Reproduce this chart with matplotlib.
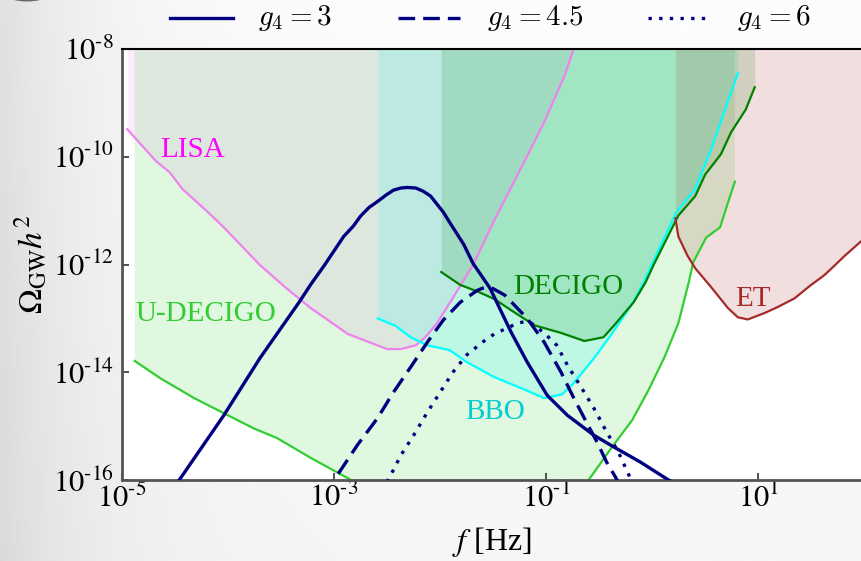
import numpy as np
import matplotlib
matplotlib.use("Agg")
import matplotlib.pyplot as plt
from matplotlib.lines import Line2D
from matplotlib.patches import Circle

plt.rcParams["font.family"] = ["Liberation Serif", "DejaVu Serif"]
plt.rcParams["mathtext.fontset"] = "stix"

# detector sensitivity curves, log10 f [Hz] vs log10 Omega h^2
lisa_logf = [-4.95, -4.68, -4.55, -4.43, -4.20, -4.04, -3.70, -3.45, -3.22, -2.87,
             -2.50, -2.37, -2.23, -2.14, -2.03, -1.88, -1.75, -1.69, -1.49, -1.18,
             -1.02, -0.83, -0.74, -0.66]
lisa_logo = [-9.49, -10.08, -10.29, -10.60, -11.01, -11.31, -12.01, -12.44, -12.81, -13.29,
             -13.57, -13.57, -13.50, -13.35, -13.09, -12.62, -12.20, -12.01, -11.18, -9.99,
             -9.36, -8.51, -8.00, -7.80]

udecigo_logf = [-4.88, -4.64, -4.32, -4.04, -3.76, -3.54, -3.22, -2.84, -2.50, -1.50,
                -0.80, -0.60, -0.38, -0.19, -0.035, 0.115, 0.246, 0.349, 0.386, 0.508,
                0.639, 0.714, 0.779]
udecigo_logo = [-13.79, -14.11, -14.48, -14.76, -15.04, -15.22, -15.59, -16.00, -16.40, -16.80,
                -16.40, -16.00, -15.39, -14.89, -14.33, -13.72, -13.09, -12.29, -11.96, -11.50,
                -11.31, -10.85, -10.46]

bbo_logf = [-2.588, -2.42, -2.28, -2.12, -1.91, -1.75, -1.49, -1.23, -1.02, -0.85,
            -0.74, -0.55, -0.39, -0.20, -0.08, -0.007, 0.227, 0.405, 0.555, 0.807]
bbo_logo = [-13.00, -13.14, -13.35, -13.50, -13.59, -13.81, -14.09, -14.30, -14.48, -14.41,
            -14.20, -13.74, -13.31, -12.76, -12.33, -12.01, -11.03, -10.60, -9.86, -8.45]

decigo_logf = [-1.99, -1.81, -1.65, -1.49, -1.33, -1.11, -0.86, -0.64, -0.46, -0.36,
               -0.175, -0.063, 0.012, 0.246, 0.405, 0.499, 0.648, 0.742, 0.882, 0.966]
decigo_logo = [-12.14, -12.38, -12.50, -12.64, -12.85, -13.13, -13.27, -13.42, -13.35, -13.13,
               -12.70, -12.33, -12.01, -11.09, -10.73, -10.33, -9.95, -9.55, -9.12, -8.71]

et_logf = [0.218, 0.246, 0.330, 0.405, 0.555, 0.714, 0.807, 0.901, 1.060, 1.182,
           1.340, 1.490, 1.621, 1.724, 1.808, 1.968, 2.05]
et_logo = [-11.14, -11.48, -11.83, -12.07, -12.42, -12.81, -12.98, -13.02, -12.90, -12.79,
           -12.63, -12.39, -12.20, -12.01, -11.85, -11.57, -11.45]

# predicted spectra for the three couplings
g3_logf = [-4.60, -4.46, -4.04, -3.70, -3.33, -3.22, -3.09, -2.91, -2.82, -2.75, -2.67,
           -2.59, -2.51, -2.44, -2.37, -2.31, -2.23, -2.16, -2.09, -2.03, -1.97, -1.91,
           -1.78, -1.69, -1.53, -1.33, -1.18, -0.99, -0.80, -0.55, -0.36, -0.11, 0.153, 0.30]
g3_logo = [-16.30, -16.00, -14.80, -13.74, -12.70, -12.37, -12.01, -11.48, -11.29, -11.10, -10.94,
           -10.83, -10.71, -10.62, -10.58, -10.57, -10.58, -10.64, -10.73, -10.88, -11.03, -11.22,
           -11.62, -11.98, -12.44, -13.26, -13.81, -14.43, -14.80, -15.17, -15.39, -15.67, -16.00, -16.15]

g45_logf = [-3.10, -3.00, -2.78, -2.59, -2.44, -2.28, -2.12, -1.97, -1.81, -1.65, -1.60,
            -1.53, -1.49, -1.39, -1.18, -1.02, -0.86, -0.74, -0.62, -0.52, -0.43, -0.34, -0.28]
g45_logo = [-16.25, -16.00, -15.35, -14.85, -14.37, -13.91, -13.44, -13.03, -12.70, -12.48, -12.44,
            -12.42, -12.46, -12.57, -13.00, -13.44, -14.00, -14.48, -14.93, -15.30, -15.67, -15.97, -16.25]

g6_logf = [-2.56, -2.49, -2.37, -2.25, -2.12, -2.00, -1.88, -1.75, -1.60, -1.49, -1.27,
           -1.20, -1.14, -1.02, -0.90, -0.80, -0.67, -0.55, -0.43, -0.32, -0.22, -0.17]
g6_logo = [-16.20, -16.00, -15.54, -15.17, -14.74, -14.37, -14.00, -13.68, -13.44, -13.29, -13.09,
           -13.06, -13.09, -13.27, -13.50, -13.87, -14.28, -14.67, -15.11, -15.48, -15.91, -16.20]

detectors = [
    ("LISA", lisa_logf, lisa_logo, "violet", "magenta", (2.3e-5, 9.8e-11)),
    ("U-DECIGO", udecigo_logf, udecigo_logo, "limegreen", "limegreen", (1.35e-5, 9.1e-14)),
    ("BBO", bbo_logf, bbo_logo, "cyan", "darkturquoise", (1.72e-2, 1.35e-15)),
    ("DECIGO", decigo_logf, decigo_logo, "green", "green", (4.93e-2, 2.8e-13)),
    ("ET", et_logf, et_logo, "brown", "brown", (6.0, 1.7e-13)),
]

signals = [
    ("$g_4 = 3$", g3_logf, g3_logo, "-"),
    ("$g_4 = 4.5$", g45_logf, g45_logo, (0, (5, 2.4))),
    ("$g_4 = 6$", g6_logf, g6_logo, (0, (1, 2.2))),
]

W, H = 861, 561
fig = plt.figure(figsize=(W / 100, H / 100), dpi=100)

# soft grey backdrop, darker towards the left edge
bg = fig.add_axes([0, 0, 1, 1], zorder=-10)
xx = np.linspace(0, 1, 300)[None, :]
yy = np.linspace(0, 1, 200)[:, None]
shade = 0.99 - 0.11 * np.exp(-xx / 0.12) - 0.025 * yy
bg.imshow(shade, cmap="gray", vmin=0, vmax=1, aspect="auto", extent=[0, 1, 0, 1], origin="upper")
bg.set_axis_off()
fig.patches.append(Circle((27 / W, 1 + 24 / H), 36 / W, transform=fig.transFigure,
                          facecolor="#d6d6d6", edgecolor="#6a6a6a", lw=3, zorder=-5))

ax = fig.add_axes([122 / W, 81 / H, 1 - 122 / W, 431 / H])
ax.set_xscale("log")
ax.set_yscale("log")

for name, lf, lo, lc, tc, pos in detectors:
    f = np.power(10.0, lf)
    om = np.power(10.0, lo)
    ax.fill_between(f, om, 1e-6, color=lc, alpha=0.15, lw=0, zorder=1)
    ax.plot(f, om, color=lc, lw=1.6, zorder=2)
    ax.text(pos[0], pos[1], name, color=tc, fontsize=21, va="baseline", zorder=3)

sig_lines = []
for label, lf, lo, ls in signals:
    ln, = ax.plot(np.power(10.0, lf), np.power(10.0, lo), color="navy", lw=2.4,
                  linestyle=ls, zorder=4)
    sig_lines.append((label, ls))

ax.set_xlim(10 ** -4.946, 10 ** 1.968)
ax.set_ylim(1e-16, 1e-8)

xexp = [-5, -3, -1, 1]
yexp = [-16, -14, -12, -10, -8]
ax.set_xticks([10.0 ** e for e in xexp],
              [rf"$10^{{\text{{{e}}}}}$" for e in xexp])
ax.set_yticks([10.0 ** e for e in yexp],
              [rf"$10^{{\text{{{e}}}}}$" for e in yexp])
ax.minorticks_off()
ax.tick_params(direction="in", length=5, width=1.2, labelsize=22, color="#333333")
ax.tick_params(axis="x", pad=3)
ax.tick_params(axis="y", pad=6)

for side in ("left", "bottom"):
    ax.spines[side].set_color("#555555")
    ax.spines[side].set_linewidth(2)
ax.spines["top"].set_color("black")
ax.spines["top"].set_linewidth(1.5)
ax.spines["right"].set_visible(False)

ax.set_xlabel("$f$ [Hz]", fontsize=23, labelpad=8)
ax.set_ylabel(r"$\Omega_{\rm GW}h^2$", fontsize=24, labelpad=2)

# key row above the axes
key_x = [(170, 233, 258), (398, 460, 487), (648, 712, 737)]
key_y = 1 - 18 / H
for (label, ls), (x0, x1, xt) in zip(sig_lines, key_x):
    fig.add_artist(Line2D([x0 / W, x1 / W], [key_y, key_y], transform=fig.transFigure,
                          color="navy", lw=2.4, linestyle=ls))
    fig.text(xt / W, key_y, label, fontsize=21, math_fontfamily="cm",
             ha="left", va="center")

fig.savefig("out.png", dpi=100)
